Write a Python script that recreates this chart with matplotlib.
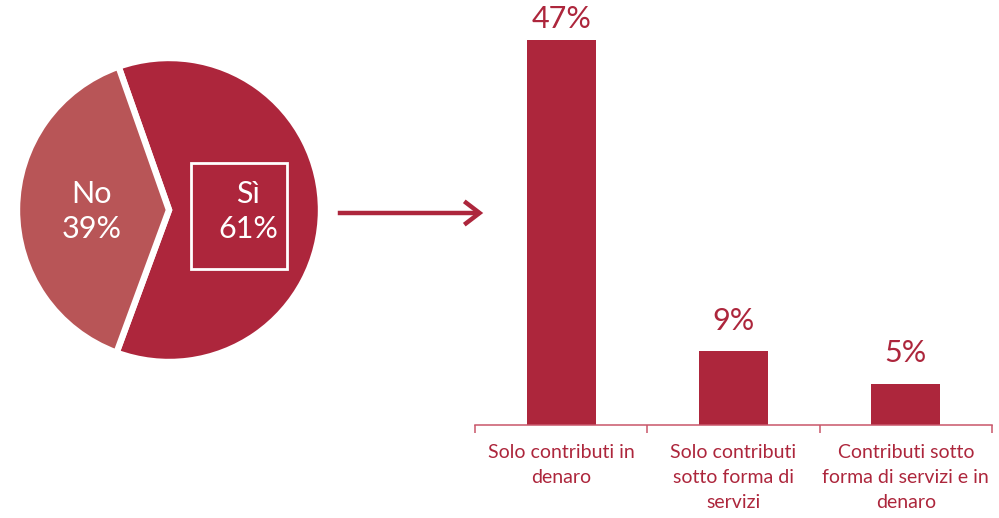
import matplotlib.pyplot as plt
from matplotlib.patches import Rectangle, FancyArrowPatch

plt.rcParams['font.family'] = ['Lato', 'DejaVu Sans']

# Pie: share answering yes/no
pie_labels = ['Sì', 'No']
pie_values = [61, 39]

# Bars: breakdown of the "Sì" answers
categories = ['Solo contributi in\ndenaro',
              'Solo contributi\nsotto forma di\nservizi',
              'Contributi sotto\nforma di servizi e in\ndenaro']
values = [47, 9, 5]

crimson = '#AD263C'
rose = '#B85557'
axis_col = '#C9566A'

fig = plt.figure(figsize=(9.99, 5.18), dpi=100)
W, H = 999, 518

# ---- pie on the left ----
cx, cy, r = 169, 210, 152
pax = fig.add_axes([(cx - r) / W, (H - cy - r) / H, 2 * r / W, 2 * r / H])
wedges, _ = pax.pie(pie_values, colors=[crimson, rose], startangle=-110.2,
                    counterclock=True, radius=1,
                    wedgeprops=dict(edgecolor='white', linewidth=4.6))
pax.set_xlim(-1, 1)
pax.set_ylim(-1, 1)
pax.set_aspect('equal')
pax.axis('off')

pax.text(-0.51, -0.01, f'{pie_labels[1]}\n{pie_values[1]}%', color='white',
         fontsize=22, ha='center', va='center', linespacing=1.3)
pax.text(0.52, -0.01, f'{pie_labels[0]}\n{pie_values[0]}%', color='white',
         fontsize=22, ha='center', va='center', linespacing=1.3)
pax.add_patch(Rectangle((0.145, -0.39), 0.63, 0.70, fill=False,
                        edgecolor='white', linewidth=2))

# ---- connecting arrow ----
fig.add_artist(FancyArrowPatch(
    (335 / W, 1 - 213 / H), (486 / W, 1 - 213 / H),
    transform=fig.transFigure, color=crimson, linewidth=3.2,
    arrowstyle='->, head_length=0.55, head_width=0.42', mutation_scale=20,
    joinstyle='miter', capstyle='butt'))

# ---- bar chart on the right ----
base_y, top_y = 425, 15
ax = fig.add_axes([475 / W, (H - base_y) / H, (992 - 475) / W, (base_y - top_y) / H])
x = range(len(values))
ax.bar(x, values, width=0.40, color=crimson)
ax.set_xlim(-0.5, len(values) - 0.5)
ax.set_ylim(0, 50)

for i, v in enumerate(values):
    off = 5 if v == max(values) else 12
    ax.annotate(f'{v}%', (i, v), xytext=(0, off), textcoords='offset points',
                ha='center', va='bottom', fontsize=22, color=crimson,
                annotation_clip=False)

for s in ['top', 'right', 'left']:
    ax.spines[s].set_visible(False)
ax.spines['bottom'].set_color(axis_col)
ax.spines['bottom'].set_linewidth(1.1)
ax.set_yticks([])
ax.set_xticks([i - 0.5 for i in range(len(values) + 1)])
ax.set_xticklabels([])
ax.tick_params(axis='x', length=6, width=1.1, color=axis_col)
ax.set_xticks(list(x), minor=True)
ax.set_xticklabels(categories, minor=True, fontsize=14, color=crimson,
                   linespacing=1.55, va='top')
ax.tick_params(axis='x', which='minor', length=0, pad=14)

fig.savefig('out.png', dpi=100)
